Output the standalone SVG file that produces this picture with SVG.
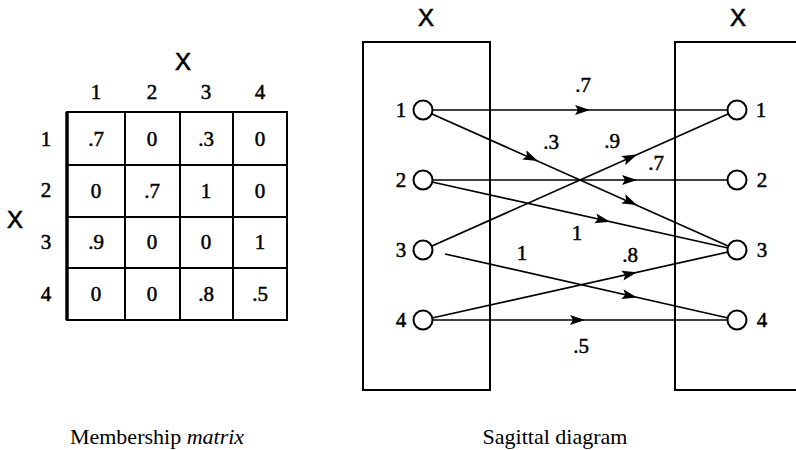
<svg xmlns="http://www.w3.org/2000/svg" width="796" height="450" viewBox="0 0 796 450">
<style>
.t{font-family:"Liberation Serif",serif;font-size:21px;fill:#000;stroke:#000;stroke-width:0.5;text-anchor:middle}
.x{font-family:"Liberation Sans",sans-serif;font-size:24px;fill:#000;stroke:#000;stroke-width:0.6;text-anchor:middle}
.cap{font-family:"Liberation Serif",serif;font-size:22px;fill:#000;text-anchor:middle}
.grid{stroke:#000;stroke-width:2;fill:none}
.box{stroke:#000;stroke-width:2;fill:none}
.e{stroke:#000;stroke-width:1.7;fill:none}
.n{stroke:#000;stroke-width:2;fill:#fff}
</style>
<defs>
<polygon id="ah" points="0,0 -15,-5 -12,0 -15,5" fill="#000"/>
</defs>
<rect width="796" height="450" fill="#fff"/>

<g id="matrix">
<text class="x" x="183" y="70">X</text>
<text class="t" x="96" y="99">1</text>
<text class="t" x="152" y="99">2</text>
<text class="t" x="206" y="99">3</text>
<text class="t" x="260" y="99">4</text>
<text class="x" x="15" y="228">X</text>
<text class="t" x="46" y="146">1</text>
<text class="t" x="46" y="197">2</text>
<text class="t" x="46" y="249">3</text>
<text class="t" x="46" y="301">4</text>
<rect class="grid" x="67" y="112" width="220" height="208"/>
<line x1="67" y1="112" x2="67" y2="320" stroke="#000" stroke-width="3.5"/>
<line class="grid" x1="125" y1="112" x2="125" y2="320"/>
<line class="grid" x1="180" y1="112" x2="180" y2="320"/>
<line class="grid" x1="233" y1="112" x2="233" y2="320"/>
<line class="grid" x1="67" y1="165" x2="287" y2="165"/>
<line class="grid" x1="67" y1="217" x2="287" y2="217"/>
<line class="grid" x1="67" y1="268" x2="287" y2="268"/>
<text class="t" x="96" y="146">.7</text><text class="t" x="152" y="146">0</text><text class="t" x="206" y="146">.3</text><text class="t" x="260" y="146">0</text>
<text class="t" x="96" y="198">0</text><text class="t" x="152" y="198">.7</text><text class="t" x="206" y="198">1</text><text class="t" x="260" y="198">0</text>
<text class="t" x="96" y="249">.9</text><text class="t" x="152" y="249">0</text><text class="t" x="206" y="249">0</text><text class="t" x="260" y="249">1</text>
<text class="t" x="96" y="301">0</text><text class="t" x="152" y="301">0</text><text class="t" x="206" y="301">.8</text><text class="t" x="260" y="301">.5</text>
</g>

<g id="leftbox">
<text class="x" x="426" y="26">X</text>
<rect class="box" x="363" y="42" width="127" height="348"/>
</g>
<g id="rightbox">
<text class="x" x="738" y="26">X</text>
<path class="box" d="M796,42 H675 V390 H796"/>
</g>

<g id="connectors">
<line class="e" x1="423" y1="110" x2="737" y2="110"/>
<line class="e" x1="423" y1="110" x2="737" y2="250"/>
<line class="e" x1="423" y1="180" x2="737" y2="180"/>
<line class="e" x1="423" y1="180" x2="737" y2="250"/>
<line class="e" x1="423" y1="250" x2="737" y2="110"/>
<line class="e" x1="445" y1="254" x2="737" y2="320"/>
<line class="e" x1="423" y1="320" x2="737" y2="250"/>
<line class="e" x1="423" y1="320" x2="737" y2="320"/>
<use href="#ah" transform="translate(590,110)"/>
<use href="#ah" transform="translate(538,161) rotate(24)"/>
<use href="#ah" transform="translate(637,205) rotate(24)"/>
<use href="#ah" transform="translate(637,180)"/>
<use href="#ah" transform="translate(610,221.7) rotate(12.6)"/>
<use href="#ah" transform="translate(637,154.5) rotate(-24)"/>
<use href="#ah" transform="translate(637,297.5) rotate(12.7)"/>
<use href="#ah" transform="translate(637,272.3) rotate(-12.6)"/>
<use href="#ah" transform="translate(585,320)"/>
<text class="t" x="583" y="92">.7</text>
<text class="t" x="551" y="149">.3</text>
<text class="t" x="612" y="148">.9</text>
<text class="t" x="656" y="170">.7</text>
<text class="t" x="577" y="240">1</text>
<text class="t" x="522" y="260">1</text>
<text class="t" x="630" y="262">.8</text>
<text class="t" x="581" y="353">.5</text>
</g>

<g id="L1"><circle class="n" cx="423" cy="110" r="9.5"/><text class="t" x="401" y="117">1</text></g>
<g id="L2"><circle class="n" cx="423" cy="180" r="9.5"/><text class="t" x="401" y="187">2</text></g>
<g id="L3"><circle class="n" cx="423" cy="250" r="9.5"/><text class="t" x="401" y="257">3</text></g>
<g id="L4"><circle class="n" cx="423" cy="320" r="9.5"/><text class="t" x="401" y="327">4</text></g>
<g id="R1"><circle class="n" cx="737" cy="110" r="9.5"/><text class="t" x="761" y="117">1</text></g>
<g id="R2"><circle class="n" cx="737" cy="180" r="9.5"/><text class="t" x="762" y="187">2</text></g>
<g id="R3"><circle class="n" cx="737" cy="250" r="9.5"/><text class="t" x="762" y="257">3</text></g>
<g id="R4"><circle class="n" cx="737" cy="320" r="9.5"/><text class="t" x="762" y="327">4</text></g>

<text class="cap" x="157" y="444">Membership <tspan font-style="italic">matrix</tspan></text>
<text class="cap" x="555" y="444">Sagittal diagram</text>
</svg>
